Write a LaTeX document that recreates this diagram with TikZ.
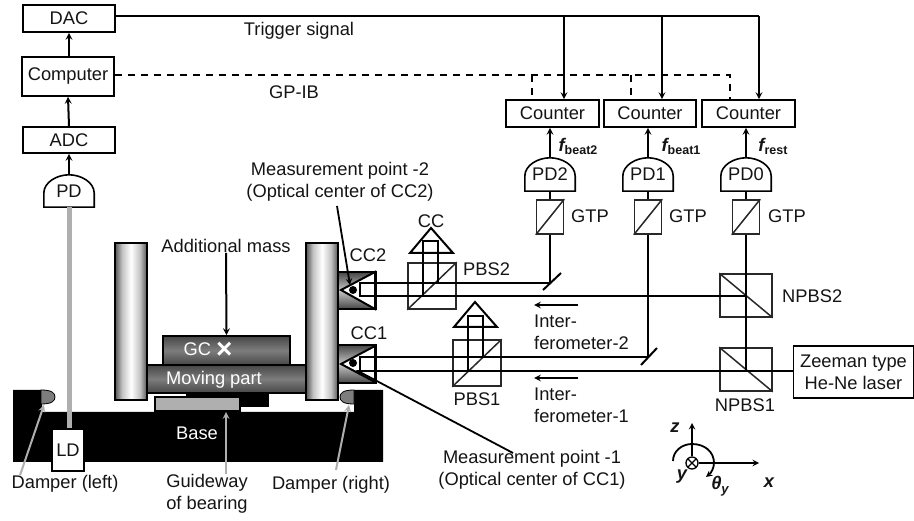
\documentclass[tikz,border=0pt]{standalone}
\usepackage{fontspec}
\setmainfont{Liberation Sans}
\usetikzlibrary{arrows}
\definecolor{textgrey}{RGB}{20,20,20}
\definecolor{opticgrey}{RGB}{40,40,40}
\definecolor{lightgrey}{RGB}{175,175,175}
\definecolor{blockdark}{RGB}{70,70,70}
\definecolor{blockmid}{RGB}{125,125,125}
\definecolor{postdark}{RGB}{85,85,85}
\definecolor{postlight}{RGB}{195,195,195}
\definecolor{dampergrey}{RGB}{125,125,125}
\pgfdeclarehorizontalshading{postshade}{100bp}{color(0bp)=(postdark); color(25bp)=(postdark); color(36bp)=(postlight); color(50bp)=(white); color(64bp)=(postlight); color(75bp)=(postdark); color(100bp)=(postdark)}
\tikzstyle{arrow} = [line width=2pt,->,>=stealth]
\tikzstyle{pointer} = [line width=1.8pt,->,>=stealth]
\tikzstyle{greyarrow} = [line width=2pt,->,>=stealth,color=lightgrey]
\tikzstyle{beam} = [line width=2pt]
\tikzstyle{signal} = [line width=1.4pt,dashed,dash pattern=on 7pt off 6pt]
\tikzstyle{box} = [draw,line width=1.6pt,inner sep=0pt,align=center,text=textgrey]
\tikzstyle{optic} = [draw=opticgrey,line width=1.5pt,inner sep=0pt]
\tikzstyle{darkblock} = [draw=black,line width=1.6pt,inner sep=0pt,text=white,top color=blockdark,bottom color=blockdark,middle color=blockmid]
\tikzstyle{post} = [draw=black,line width=1.6pt,shading=postshade]
\tikzstyle{holder} = [draw=black,line width=1.6pt,top color=blockdark,bottom color=blockdark,middle color=lightgrey!70!white]
\tikzstyle{label} = [inner sep=0pt,text=textgrey,align=center]
\begin{document}
\begin{tikzpicture}[x=1pt,y=-1pt,font=\fontsize{18.3}{22}\selectfont]
\useasboundingbox (0,0) rectangle (914,521);

% electronics on the left
\node[box,minimum width=92pt,minimum height=27pt] (dac) at (69,18.5) {DAC};
\node[box,minimum width=92pt,minimum height=39pt] (computer) at (68,76.5) {Computer};
\node[box,minimum width=92pt,minimum height=26pt] (adc) at (69,140) {ADC};
\node[label,minimum width=50pt,minimum height=32pt,text depth=0pt] (pdleft) at (69,191) {PD};
\draw[line width=1.6pt] (pdleft.south west) -- (pdleft.south east) -- ++(0,-14) .. controls +(0,-11) and +(12,0) .. (pdleft.north) .. controls +(-12,0) and +(0,-11) .. ([yshift=14pt]pdleft.south west) -- cycle;
\draw[arrow] (pdleft.north) -- (adc.south);
\draw[arrow] (adc.north) -- (computer.south);
\draw[arrow] (computer.north -| dac) -- (dac.south);

% base and machine
\fill[black] (13,390) -- (42,390) -- (42,412) -- (354,412) -- (354,390) -- (383,390) -- (383,462) -- (13,462) -- cycle;
\draw[line width=5pt,color=lightgrey] (69,207) -- (69,429);
\node[box,fill=white,minimum width=32pt,minimum height=42pt] (ld) at (68,450) {LD};
\draw[draw=black,line width=0.8pt,fill=dampergrey] (41,390) .. controls (52,390) and (55,393) .. (55,397) .. controls (55,401) and (52,404) .. (41,404) -- cycle;
\draw[draw=black,line width=0.8pt,fill=dampergrey] (354,390) .. controls (343,390) and (340,393) .. (340,397) .. controls (340,401) and (343,404) .. (354,404) -- cycle;
\fill[black] (186,393) rectangle (269,407);
\node[draw=black,line width=1.2pt,fill=lightgrey,minimum width=85pt,minimum height=14pt,inner sep=0pt] (guideway) at (197.5,404) {};
\node[darkblock,minimum width=159pt,minimum height=28pt] (movingpart) at (226.5,379) {};
\node[darkblock,minimum width=127pt,minimum height=29pt] (gc) at (226.5,350.5) {};
\node[post,minimum width=32pt,minimum height=157pt] (postleft) at (131,321.5) {};
\node[post,minimum width=32pt,minimum height=157pt] (postright) at (322,321.5) {};
\node[text=white,inner sep=0pt] (gclabel) at (208,350) {GC \raisebox{-2.5pt}{\fontsize{28}{28}\selectfont\bfseries ×}};
\node[text=white,inner sep=0pt] (movinglabel) at (214,380) {Moving part};
\node[text=white,inner sep=0pt] (baselabel) at (197,433) {Base};

% corner cubes on the right post
\node[holder,minimum width=38pt,minimum height=37pt] (holdertwo) at (357,290.5) {};
\node[holder,minimum width=38pt,minimum height=38pt] (holderone) at (357,364) {};
\draw[line width=2pt,fill=white] (341,290) -- (375,272) -- (375,309) -- cycle;
\draw[line width=2pt,fill=white] (341,364) -- (375,346) -- (375,382) -- cycle;

% optical components
\node[optic,minimum width=48pt,minimum height=46pt] (pbstwo) at (432,286) {};
\node[optic,minimum width=48pt,minimum height=46pt] (pbsone) at (477,363) {};
\draw[line width=1.5pt,color=opticgrey] (pbstwo.south west) -- (pbstwo.north east);
\draw[line width=1.5pt,color=opticgrey] (pbsone.south west) -- (pbsone.north east);
\node[optic,minimum width=52pt,minimum height=43pt] (npbstwo) at (746,295.5) {};
\node[optic,minimum width=52pt,minimum height=43pt] (npbsone) at (746,369.5) {};
\draw[line width=1.5pt,color=opticgrey] (npbstwo.north west) -- (npbstwo.south east);
\draw[line width=1.5pt,color=opticgrey] (npbsone.north west) -- (npbsone.south east);
\draw[line width=2pt] (431,228) -- (453,253) -- (410,253) -- cycle;
\draw[line width=2pt] (475,302) -- (497,327) -- (454,327) -- cycle;
\node[box,minimum width=120pt,minimum height=52pt] (laser) at (853.5,372) {Zeeman type\\He-Ne laser};

% counters, detectors and polarizers
\node[box,minimum width=93pt,minimum height=27pt] (countertwo) at (552.5,113.5) {Counter};
\node[box,minimum width=92pt,minimum height=27pt] (counterone) at (650,113.5) {Counter};
\node[box,minimum width=93pt,minimum height=27pt] (counterrest) at (748.5,113.5) {Counter};
\node[label,minimum width=50pt,minimum height=33pt,text depth=0pt] (pdtwo) at (550,174.5) {PD2};
\node[label,minimum width=50pt,minimum height=33pt,text depth=0pt] (pdone) at (648,174.5) {PD1};
\node[label,minimum width=50pt,minimum height=33pt,text depth=0pt] (pdzero) at (746,174.5) {PD0};
\foreach \detector in {pdtwo,pdone,pdzero}
  \draw[line width=1.6pt] (\detector.south west) -- (\detector.south east) -- ++(0,-15) .. controls +(0,-11) and +(12,0) .. (\detector.north) .. controls +(-12,0) and +(0,-11) .. ([yshift=15pt]\detector.south west) -- cycle;
\node[optic,minimum width=27pt,minimum height=34pt] (gtptwo) at (550,217) {};
\node[optic,minimum width=27pt,minimum height=34pt] (gtpone) at (648,217) {};
\node[optic,minimum width=27pt,minimum height=34pt] (gtpzero) at (746,217) {};
\foreach \polarizer in {gtptwo,gtpone,gtpzero}
  \draw[line width=1.5pt,color=opticgrey] (\polarizer.south west) -- (\polarizer.north east);
\draw[arrow] (pdtwo.north) -- (countertwo.south -| pdtwo);
\draw[arrow] (pdone.north) -- (counterone.south -| pdone);
\draw[arrow] (pdzero.north) -- (counterrest.south -| pdzero);
\draw[beam] (gtptwo.north) -- (pdtwo.south);
\draw[beam] (gtpone.north) -- (pdone.south);
\draw[beam] (gtpzero.north) -- (pdzero.south);

% trigger line and GP-IB
\coordinate (triggertwo) at (564,16);
\coordinate (triggerone) at (662,16);
\coordinate (triggerrest) at (759,16);
\draw[beam] (dac.east |- triggerrest) -- (triggerrest);
\draw[arrow] (triggertwo) -- (countertwo.north -| triggertwo);
\draw[arrow] (triggerone) -- (counterone.north -| triggerone);
\draw[arrow] (triggerrest) -- (counterrest.north -| triggerrest);
\coordinate (gpibtwo) at (532,75);
\coordinate (gpibone) at (631,75);
\coordinate (gpibrest) at (730,75);
\draw[signal] (computer.east |- gpibrest) -- (gpibrest) -- (counterrest.north -| gpibrest);
\draw[signal] (gpibtwo) -- (countertwo.north -| gpibtwo);
\draw[signal] (gpibone) -- (counterone.north -| gpibone);

% laser beams
\coordinate (mirrortwo) at (550,283);
\coordinate (mirrorone) at (648,357);
\coordinate (splittwo) at (746,296);
\coordinate (splitone) at (746,371);
\draw[line width=2pt] (543,290) -- (561,273);
\draw[line width=2pt] (641,365) -- (657,348);
\draw[beam] (gtpzero.south) -- (splitone);
\draw[beam] (gtptwo.south) -- (mirrortwo);
\draw[beam] (gtpone.south) -- (mirrorone);
\draw[beam] (laser.west |- splitone) -- (360,371) -- (360,357) -- (mirrorone);
\draw[beam] (splittwo) -- (360,296) -- (360,283) -- (mirrortwo);
\draw[beam] (423,296) -- (423,241) -- (438,241) -- (438,283);
\draw[beam] (468,371) -- (468,316) -- (483,316) -- (483,357);
\fill[black] (353,290) circle (4pt);
\fill[black] (353,363) circle (4pt);

% labels
\node[label] (trigger) at (299,31) {Trigger signal};
\node[label] (gpib) at (294,92) {GP-IB};
\node[label] (fbeattwo) at (578,146) {\bfseries\itshape f\kern0pt\raisebox{-3pt}{\fontsize{12.5}{13}\selectfont\upshape beat2}};
\node[label] (fbeatone) at (681,146) {\bfseries\itshape f\kern0pt\raisebox{-3pt}{\fontsize{12.5}{13}\selectfont\upshape beat1}};
\node[label] (frest) at (773,146) {\bfseries\itshape f\kern0pt\raisebox{-3pt}{\fontsize{12.5}{13}\selectfont\upshape rest}};
\node[label,anchor=west] (gtplabeltwo) at (571,216) {GTP};
\node[label,anchor=west] (gtplabelone) at (669,216) {GTP};
\node[label,anchor=west] (gtplabelzero) at (768,216) {GTP};
\node[label] (pointtwo) at (340,182) {Measurement point -2\\(Optical center of CC2)};
\node[label] (mass) at (226,246) {Additional mass};
\node[label] (cctwo) at (368,255) {CC2};
\node[label] (ccone) at (369,333) {CC1};
\node[label] (cc) at (431,221) {CC};
\node[label,anchor=west] (pbstwolabel) at (463,269) {PBS2};
\node[label] (pbsonelabel) at (477,399) {PBS1};
\node[label,anchor=west] (npbstwolabel) at (782,296) {NPBS2};
\node[label] (npbsonelabel) at (745,405) {NPBS1};
\node[label,align=left,anchor=west] (intertwo) at (534,332) {Inter-\\ferometer-2};
\node[label,align=left,anchor=west] (interone) at (534,405) {Inter-\\ferometer-1};
\node[label] (pointone) at (532,470) {Measurement point -1\\(Optical center of CC1)};
\node[label] (damperleft) at (65,484) {Damper (left)};
\node[label] (guidelabel) at (207,494) {Guideway\\of bearing};
\node[label] (damperright) at (331,485) {Damper (right)};

% pointers
\coordinate (pointtwotip) at (350,285);
\coordinate (pointonetip) at (356,370);
\draw[pointer] (337,206) -- (pointtwotip);
\draw[pointer] (513,453) -- (pointonetip);
\draw[arrow] (mass.south) -- (gc.north);
\draw[arrow] (578,305) -- (534,305);
\draw[arrow] (578,378) -- (534,378);
\draw[greyarrow] (damperleft.north -| 20,0) -- (44,405);
\draw[greyarrow] (guidelabel.north -| 226,0) -- (226,412);
\draw[greyarrow] (336,470) -- (349,405);

% axes
\node[draw,line width=1.3pt,circle,inner sep=0pt,minimum size=12pt,path picture={\draw[line width=1.3pt] (path picture bounding box.north west) -- (path picture bounding box.south east) (path picture bounding box.north east) -- (path picture bounding box.south west);}] (origin) at (692,463) {};
\coordinate (zend) at (692,423);
\coordinate (xend) at (759,463);
\draw[pointer] (origin.north) -- (zend);
\draw[pointer] (origin.east) -- (xend);
\draw[pointer] (673,461) .. controls (673,451) and (682,444) .. (692,444) .. controls (705,444) and (714,452) .. (714,463) .. controls (714,468) and (711,473) .. (706,477);
\node[label] (zlabel) at (675,428) {\bfseries\itshape z};
\node[label] (ylabel) at (682,477) {\bfseries\itshape y};
\node[label] (xlabel) at (769,483) {\bfseries\itshape x};
\node[label] (thetalabel) at (720,486) {\bfseries\itshape θ\kern0pt\raisebox{-4pt}{\fontsize{13}{13}\selectfont y}};
\end{tikzpicture}
\end{document}
